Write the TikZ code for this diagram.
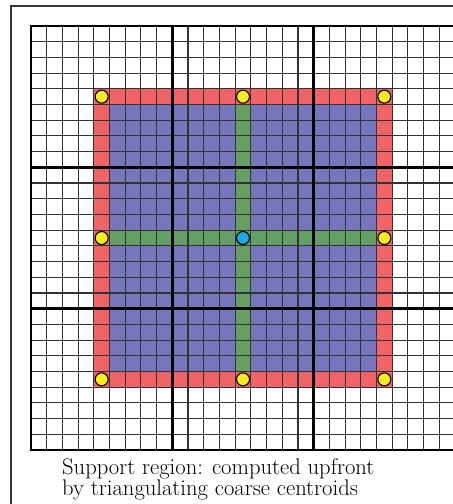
\documentclass[tikz,border=0pt]{standalone}
\definecolor{ringred}{RGB}{240,100,104}
\definecolor{interblue}{RGB}{118,118,188}
\definecolor{crossgreen}{RGB}{100,160,100}
\definecolor{dotyellow}{RGB}{248,236,30}
\definecolor{dotblue}{RGB}{30,168,228}
\definecolor{framecol}{RGB}{55,55,55}
\tikzset{
  thinline/.style={line width=1.1pt, black!80},
  thickline/.style={line width=2.6pt, black},
  dotbase/.style={circle, draw=black, line width=1.1pt, minimum size=13pt, inner sep=0pt},
  ydot/.style={dotbase, fill=dotyellow},
  bdot/.style={dotbase, fill=dotblue},
  captext/.style={anchor=north west, inner sep=0pt, align=left, font=\fontsize{22.6}{19.5}\selectfont}
}
\begin{document}
\begin{tikzpicture}[x=1pt,y=-1pt]
\clip (0,0) rectangle (453,504);
\fill[white] (0,0) rectangle (453,504);
\draw[framecol, line width=2pt] (11,6) rectangle (490,540);
\begin{scope}[shift={(31,26)}, x=15.704pt, y=-15.704pt]
  \fill[ringred] (4,4) rectangle (23,23);
  \fill[interblue] (5,5) rectangle (22,22);
  \fill[crossgreen] (13,5) rectangle (14,22);
  \fill[crossgreen] (5,13) rectangle (22,14);
  \foreach \i in {1,...,26} {
    \draw[thinline] (\i,0) -- (\i,27);
    \draw[thinline] (0,\i) -- (27,\i);
  }
  \foreach \i in {9,18} {
    \draw[thickline] (\i,0) -- (\i,27);
    \draw[thickline] (0,\i) -- (27,\i);
  }
  \draw[thickline] (0,0) rectangle (27,27);
  \node[ydot] (d11) at (4.5,4.5) {};
  \node[ydot] (d12) at (13.5,4.5) {};
  \node[ydot] (d13) at (22.5,4.5) {};
  \node[ydot] (d21) at (4.5,13.5) {};
  \node[bdot] (d22) at (13.5,13.5) {};
  \node[ydot] (d23) at (22.5,13.5) {};
  \node[ydot] (d31) at (4.5,22.5) {};
  \node[ydot] (d32) at (13.5,22.5) {};
  \node[ydot] (d33) at (22.5,22.5) {};
\end{scope}
\node[captext] (cap) at (62,458) {Support region: computed upfront\\by triangulating coarse centroids};
\end{tikzpicture}
\end{document}
